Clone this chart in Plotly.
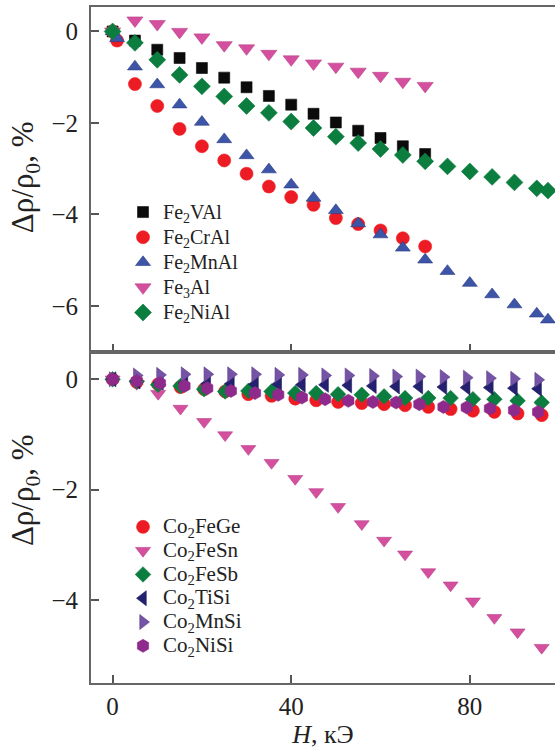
import plotly.graph_objects as go

# ---------------- data: top panel (Fe-based) ----------------
H_fe_short = [0, 5, 10, 15, 20, 25, 30, 35, 40, 45, 50, 55, 60, 65, 70]
H_fe_short1 = [0, 1, 5, 10, 15, 20, 25, 30, 35, 40, 45, 50, 55, 60, 65, 70]
H_fe_long1 = [0, 1, 5, 10, 15, 20, 25, 30, 35, 40, 45, 50, 55, 60, 65, 70, 75, 80, 85, 90, 95, 97.5]
H_fe_long = [0, 5, 10, 15, 20, 25, 30, 35, 40, 45, 50, 55, 60, 65, 70, 75, 80, 85, 90, 95, 97.5]

Fe2VAl = [0, -0.20, -0.40, -0.58, -0.80, -1.01, -1.22, -1.41, -1.60, -1.80, -1.99, -2.17, -2.33, -2.51, -2.68]
Fe2CrAl = [0, -0.20, -1.15, -1.63, -2.13, -2.51, -2.82, -3.11, -3.39, -3.62, -3.79, -4.08, -4.21, -4.35, -4.52, -4.70]
Fe2MnAl = [0, -0.15, -0.77, -1.16, -1.60, -1.98, -2.36, -2.71, -3.02, -3.35, -3.64, -3.91, -4.20, -4.44,
           -4.73, -4.99, -5.24, -5.50, -5.75, -5.97, -6.17, -6.30]
Fe3Al = [0, 0.24, 0.16, -0.01, -0.13, -0.30, -0.37, -0.49, -0.61, -0.70, -0.77, -0.88, -0.97, -1.10, -1.19]
Fe2NiAl = [0, -0.25, -0.62, -0.95, -1.20, -1.42, -1.63, -1.78, -1.97, -2.11, -2.30, -2.44, -2.57, -2.70,
           -2.84, -2.95, -3.06, -3.18, -3.30, -3.43, -3.48]

# ---------------- data: bottom panel (Co-based) ----------------
H_co_a = [0, 5.4, 10.2, 15.2, 20.5, 25.2, 30.4, 35.6, 40.9, 45.6, 50.5, 55.8, 60.8, 65.5, 70.7, 75.7,
          80.7, 85.5, 90.7, 96.1]
H_co_b = [0, 5.4, 10.6, 16.1, 21.2, 26.5, 31.9, 37.1, 42.4, 47.6, 52.8, 58.3, 63.5, 68.7, 74.1, 79.3,
          84.5, 89.9, 95.3]

Co2FeGe = [0, -0.05, -0.09, -0.14, -0.18, -0.22, -0.27, -0.30, -0.35, -0.38, -0.41, -0.43, -0.45, -0.47,
           -0.50, -0.54, -0.57, -0.59, -0.62, -0.65]
Co2FeSn = [0, -0.08, -0.26, -0.53, -0.77, -1.01, -1.26, -1.51, -1.80, -2.04, -2.31, -2.62, -2.92, -3.17,
           -3.49, -3.73, -4.02, -4.32, -4.58, -4.86]
Co2FeSb = [0, -0.04, -0.10, -0.12, -0.18, -0.22, -0.21, -0.22, -0.25, -0.25, -0.27, -0.28, -0.31, -0.34,
           -0.34, -0.34, -0.36, -0.36, -0.39, -0.42]
Co2TiSi = [0, -0.04, -0.06, -0.07, -0.08, -0.08, -0.09, -0.09, -0.10, -0.10, -0.11, -0.12, -0.13, -0.13,
           -0.14, -0.15, -0.15, -0.16, -0.17]
Co2MnSi = [0, 0.07, 0.08, 0.09, 0.09, 0.09, 0.09, 0.08, 0.08, 0.07, 0.07, 0.06, 0.05, 0.05, 0.04, 0.03,
           0.02, 0.01, -0.01]
Co2NiSi = [0, -0.03, -0.07, -0.12, -0.16, -0.21, -0.25, -0.28, -0.33, -0.36, -0.39, -0.41, -0.42, -0.45,
           -0.50, -0.51, -0.53, -0.56, -0.59]

x_ticks = [0, 40, 80]
y_ticks_top = [0, -2, -4, -6]
y_ticks_bot = [0, -2, -4]

SERIF = "Liberation Serif, Times New Roman, serif"
AXC = "#666666"

fig = go.Figure()


def lab(name, fs):
    return f'<span style="font-size:{fs}px">{name}</span>'


def add(x, y, name, symbol, color, size, line_color, top=True, fs=20):
    fig.add_trace(go.Scatter(
        x=x, y=y, mode="markers", name=lab(name, fs),
        marker=dict(symbol=symbol, color=color, size=size,
                    line=dict(color=line_color, width=0.6)),
        xaxis="x" if top else "x2", yaxis="y" if top else "y2",
        legend="legend" if top else "legend2",
    ))


# top panel
add(H_fe_short, Fe2VAl, "Fe<sub>2</sub>VAl", "square", "#0b0b0b", 11, "#0b0b0b")
add(H_fe_short1, Fe2CrAl, "Fe<sub>2</sub>CrAl", "circle", "#ed1c24", 13, "#ed1c24")
add(H_fe_long1, Fe2MnAl, "Fe<sub>2</sub>MnAl", "triangle-up", "#3d55a6", 13, "#2b3a88")
add(H_fe_short, Fe3Al, "Fe<sub>3</sub>Al", "triangle-down", "#d4509f", 14, "#b8408a")
add(H_fe_long, Fe2NiAl, "Fe<sub>2</sub>NiAl", "diamond", "#0b7d3e", 13, "#0b7d3e")

# bottom panel
add(H_co_a, Co2FeGe, "Co<sub>2</sub>FeGe", "circle", "#ed1c24", 13, "#ed1c24", top=False, fs=21)
add(H_co_a, Co2FeSn, "Co<sub>2</sub>FeSn", "triangle-down", "#d4509f", 13, "#b8408a", top=False, fs=21)
add(H_co_a, Co2FeSb, "Co<sub>2</sub>FeSb", "diamond", "#0b7d3e", 12, "#0b7d3e", top=False, fs=21)
add(H_co_b, Co2TiSi, "Co<sub>2</sub>TiSi", "triangle-left", "#242170", 13, "#1c1a5c", top=False, fs=21)
add(H_co_b, Co2MnSi, "Co<sub>2</sub>MnSi", "triangle-right", "#7553a5", 13, "#5f3f8f", top=False, fs=21)
add(H_co_b, Co2NiSi, "Co<sub>2</sub>NiSi", "hexagon", "#8e2a8c", 13, "#8e2a8c", top=False, fs=21)

split = 0.4901
axis_common = dict(showline=True, linecolor=AXC, linewidth=1.8, ticks="inside", ticklen=8,
                   tickwidth=1.5, tickcolor="#555555", showgrid=False, zeroline=False,
                   tickfont=dict(family=SERIF, size=25, color="#222222"))

fig.update_layout(
    width=555, height=749,
    margin=dict(l=91, r=0, t=7, b=66),
    paper_bgcolor="white", plot_bgcolor="white",
    font=dict(family=SERIF, color="#222222"),
    xaxis=dict(range=[-4.84, 99.08], tickvals=x_ticks, showticklabels=False, mirror=True,
               anchor="y", **axis_common),
    yaxis=dict(range=[-7.0, 0.534], tickvals=y_ticks_top, domain=[split, 1], anchor="x",
               ticklabelstandoff=6, **axis_common),
    xaxis2=dict(range=[-4.84, 99.08], tickvals=x_ticks, mirror=True, anchor="y2",
                title=dict(text="<i>H</i>, кЭ", font=dict(family=SERIF, size=26, color="#222222"),
                           standoff=2),
                **axis_common),
    yaxis2=dict(range=[-5.5, 0.5], tickvals=y_ticks_bot, domain=[0, split], anchor="x2",
                ticklabelstandoff=6, **axis_common),
    legend=dict(x=0.069, y=0.7226, xanchor="left", yanchor="top", bgcolor="rgba(0,0,0,0)",
                font=dict(family=SERIF, size=17, color="#222222"), itemsizing="trace"),
    legend2=dict(x=0.069, y=0.256, xanchor="left", yanchor="top", bgcolor="rgba(0,0,0,0)",
                 font=dict(family=SERIF, size=16, color="#222222"), itemsizing="trace"),
    showlegend=True,
)

ytitle = "Δρ/ρ<sub>0</sub>, %"
for yp in (0.7485, 0.2855):
    fig.add_annotation(text=ytitle, xref="paper", yref="paper", x=-0.142, y=yp,
                       xanchor="center", yanchor="middle", textangle=-90, showarrow=False,
                       font=dict(family=SERIF, size=31, color="#222222"))

fig.write_html("out.html", config={"displayModeBar": False},
               post_script="document.body.style.margin='0';document.body.style.padding='0';")
